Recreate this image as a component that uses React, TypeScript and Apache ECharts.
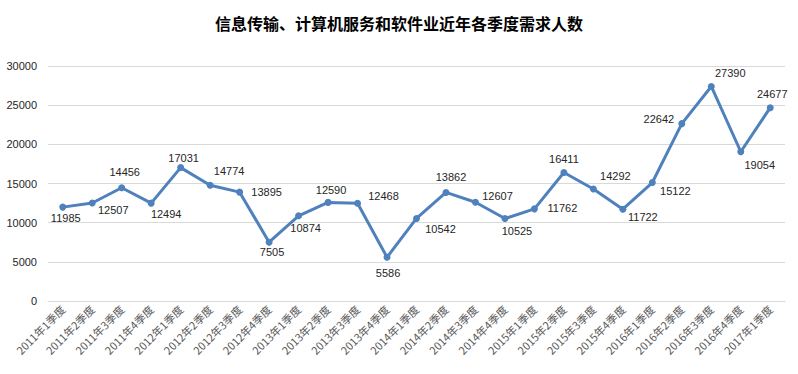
import React, { useEffect, useRef } from "react";
import * as echarts from "echarts";

const titleText = "信息传输、计算机服务和软件业近年各季度需求人数";
const categories = [
  "2011年1季度", "2011年2季度", "2011年3季度", "2011年4季度",
  "2012年1季度", "2012年2季度", "2012年3季度", "2012年4季度",
  "2013年1季度", "2013年2季度", "2013年3季度", "2013年4季度",
  "2014年1季度", "2014年2季度", "2014年3季度", "2014年4季度",
  "2015年1季度", "2015年2季度", "2015年3季度", "2015年4季度",
  "2016年1季度", "2016年2季度", "2016年3季度", "2016年4季度",
  "2017年1季度",
];
const demand = [
  11985, 12507, 14456, 12494,
  17031, 14774, 13895, 7505,
  10874, 12590, 12468, 5586,
  10542, 13862, 12607, 10525,
  11762, 16411, 14292, 11722,
  15122, 22642, 27390, 19054,
  24677,
];
const yTicks = { min: 0, max: 30000, interval: 5000 };

// label offsets (style only), relative to each point
const labelOffsets: [number, number][] = [
  [3, 11], [21, 7], [3, -16], [15, 11],
  [3, -10], [19, -14], [27, 0], [3, 10],
  [7, 12], [3, -12], [26, -7], [1, 16],
  [24, 11], [5, -15], [22, -6], [12, 12],
  [28, -1], [0, -13], [22, -13], [20, 8],
  [23, 8], [-23, -5], [19, -13], [19, 13],
  [2, -14],
];

export default function App() {
  const ref = useRef<HTMLDivElement>(null);
  useEffect(() => {
    if (!ref.current) return;
    const chart = echarts.init(ref.current, null, { renderer: "svg" });
    chart.setOption({
      animation: false,
      backgroundColor: "#ffffff",
      title: {
        text: titleText,
        left: "center",
        top: 10,
        textStyle: {
          fontSize: 16,
          fontWeight: "bold",
          fontFamily: "'Noto Sans CJK SC'",
          color: "#000000",
        },
      },
      grid: { left: 48, right: 13, top: 66, bottom: 73, containLabel: false },
      xAxis: {
        type: "category",
        data: categories,
        boundaryGap: true,
        axisLine: { lineStyle: { color: "#d9d9d9" } },
        axisTick: { show: false },
        axisLabel: {
          rotate: 45,
          interval: 0,
          margin: 6,
          fontSize: 11,
          fontFamily: "'Noto Sans CJK SC'",
          color: "#595959",
        },
      },
      yAxis: {
        type: "value",
        min: yTicks.min,
        max: yTicks.max,
        interval: yTicks.interval,
        axisLine: { show: false },
        axisTick: { show: false },
        splitLine: { lineStyle: { color: "#d9d9d9" } },
        axisLabel: {
          fontSize: 11,
          fontFamily: "'Liberation Sans'",
          color: "#262626",
          margin: 11,
          formatter: (v: number) => String(v),
        },
      },
      series: [
        {
          type: "line",
          data: demand.map((v, i) => ({
            value: v,
            label: { offset: labelOffsets[i] },
          })),
          symbol: "circle",
          symbolSize: 7,
          lineStyle: { color: "#4f81bd", width: 3 },
          itemStyle: { color: "#4f81bd" },
          label: {
            show: true,
            position: "inside",
            fontSize: 11,
            fontFamily: "'Liberation Sans'",
            color: "#262626",
          },
        },
      ],
    });
    return () => chart.dispose();
  }, []);
  return (
    <div
      ref={ref}
      style={{ position: "fixed", left: 0, top: 0, width: 798, height: 374 }}
    />
  );
}
